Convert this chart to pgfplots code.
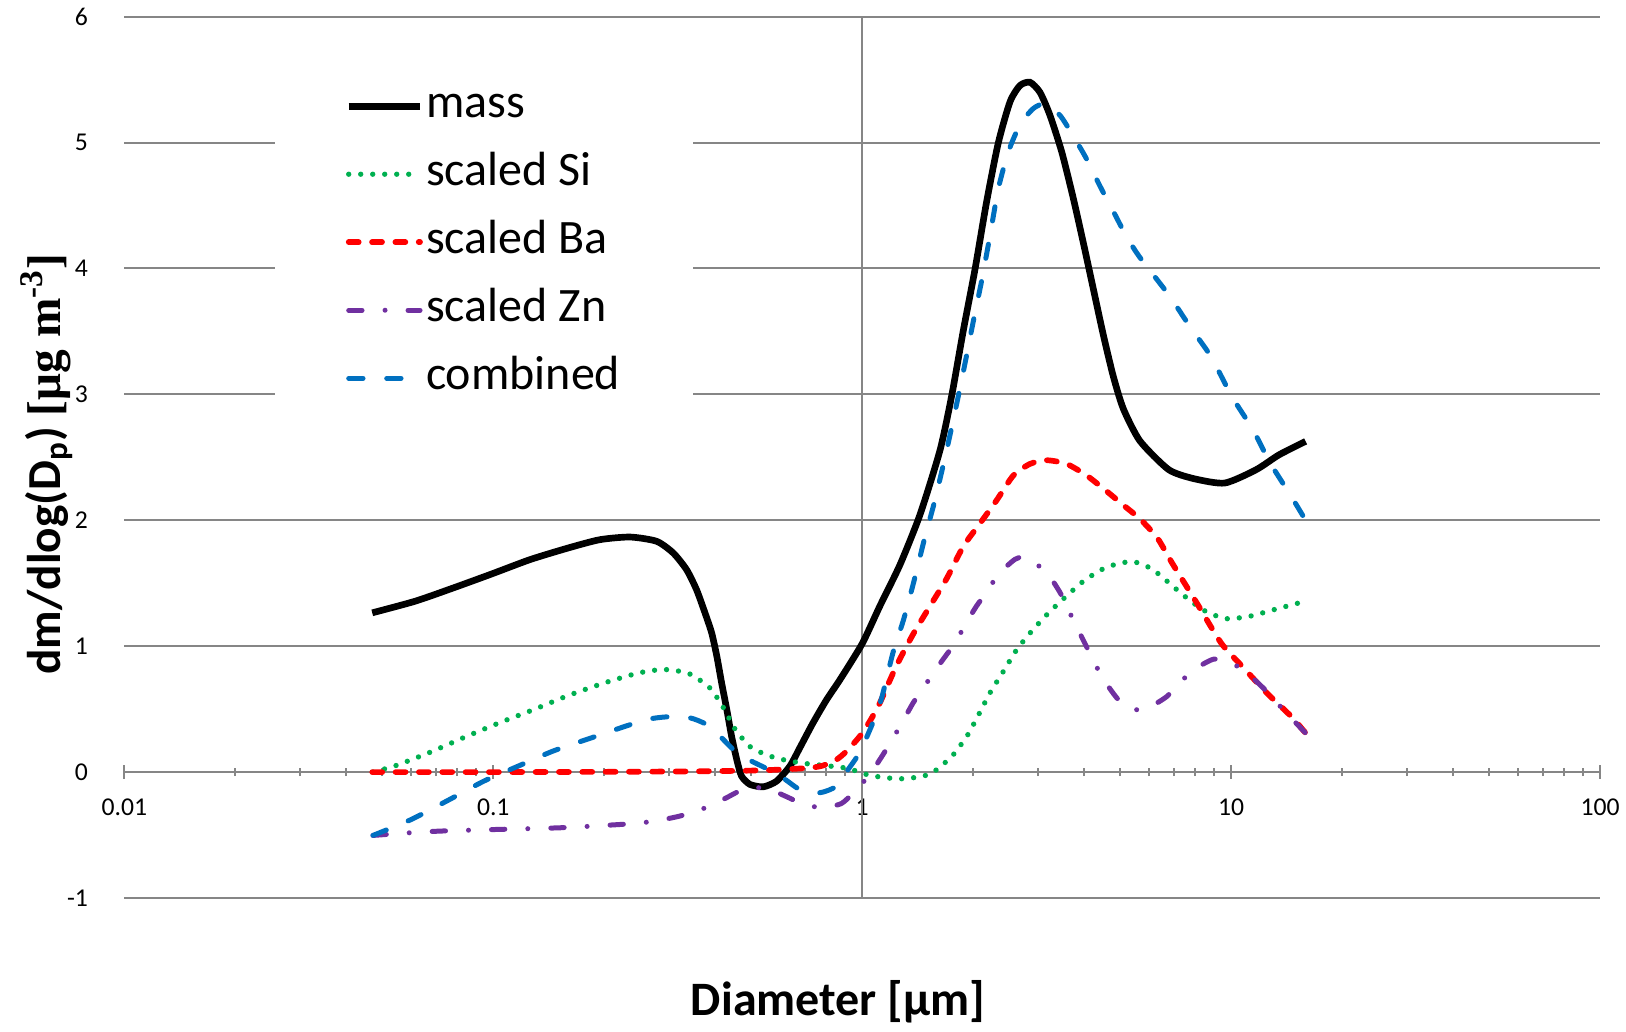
\documentclass[border=0pt]{standalone}
\usepackage{fontspec}
\setmainfont{Carlito}
\newfontfamily\serifb{Liberation Serif}
\usepackage{pgfplots}
\pgfplotsset{compat=1.18}

\definecolor{gridgray}{HTML}{868686}
\definecolor{sigreen}{HTML}{00B050}
\definecolor{bared}{HTML}{FF0000}
\definecolor{znpurple}{HTML}{7030A0}
\definecolor{combblue}{HTML}{0070C0}

\begin{document}
\begin{tikzpicture}
\begin{axis}[
  name=ax,
  scale only axis,
  width=442.7pt, height=264.4pt,
  xmin=-2, xmax=2, ymin=-1, ymax=6,
  axis x line=middle,
  axis y line=left,
  x axis line style={gridgray, line width=0.7pt, -},
  y axis line style={draw=none},
  xtick={-2,-1,0,1,2},
  xticklabels={0.01,0.1,1,10,100},
  minor xtick={-1.699,-1.523,-1.398,-1.301,-1.222,-1.155,-1.097,-1.046,
    -0.699,-0.523,-0.398,-0.301,-0.222,-0.155,-0.097,-0.046,
    0.301,0.477,0.602,0.699,0.778,0.845,0.903,0.954,
    1.301,1.477,1.602,1.699,1.778,1.845,1.903,1.954},
  ytick={-1,0,1,2,3,4,5,6},
  ymajorgrids,
  major grid style={gridgray, line width=0.6pt},
  extra x ticks={0},
  extra x tick labels={},
  extra x tick style={grid=major, major tick length=0pt},
  tick style={gridgray, line width=0.6pt},
  ytick style={draw=none},
  xtick align=center,
  major tick length=4pt, minor tick length=2.4pt,
  hide obscured x ticks=false, hide obscured y ticks=false,
  tick label style={font=\fontsize{7.7}{9}\selectfont},
  /pgf/number format/assume math mode=true,
  xticklabel style={yshift=-2.6pt},
  yticklabel style={xshift=-5.4pt},
  xlabel={\bfseries Diameter [μm]},
  xlabel style={at={(rel axis cs:0.4836,-0.118)}, anchor=center, font=\fontsize{14.4}{16}\selectfont},
  ylabel={\bfseries dm/dlog(D\textsubscript{p}) {\serifb\bfseries [μg m\textsuperscript{-3}]}},
  ylabel style={at={(rel axis cs:-0.0526,0.4924)}, anchor=center, font=\fontsize{14.2}{16}\selectfont},
  legend style={
    at={(rel axis cs:0.1019,0.9487)}, anchor=north west,
    draw=none, fill=white,
    inner xsep=21pt, inner ysep=6pt,
    font=\fontsize{14.4}{16}\selectfont,
    row sep=6.2pt,
    nodes={inner sep=0.8pt, text depth=3pt, text height=9.6pt},
  },
  legend cell align=left,
  legend image code/.code={\draw[#1] (0pt,0pt) -- (21.4pt,0pt);},
]

% mass
\addplot[black, line width=2pt, smooth, tension=0.4] table {
x y
-1.328 1.265
-1.212 1.357
-1.108 1.463
-1.004 1.574
-0.900 1.688
-0.797 1.780
-0.711 1.846
-0.629 1.867
-0.557 1.833
-0.512 1.740
-0.476 1.608
-0.449 1.449
-0.426 1.264
-0.408 1.106
-0.394 0.920
-0.381 0.709
-0.367 0.497
-0.354 0.285
-0.340 0.100
-0.327 -0.032
-0.304 -0.098
-0.268 -0.117
-0.232 -0.072
-0.196 0.047
-0.169 0.193
-0.133 0.392
-0.096 0.577
-0.060 0.735
0.000 1.020
0.048 1.319
0.1025 1.647
0.157 2.047
0.211 2.557
0.243 2.995
0.274 3.505
0.306 3.996
0.337 4.525
0.369 4.998
0.401 5.326
0.428 5.454
0.455 5.479
0.482 5.399
0.509 5.217
0.541 4.925
0.572 4.561
0.600 4.197
0.627 3.832
0.654 3.468
0.681 3.140
0.708 2.885
0.753 2.630
0.831 2.402
0.900 2.330
0.983 2.296
1.068 2.402
1.130 2.520
1.202 2.627
};
\addlegendentry{mass}

% scaled Si
\addplot[sigreen, line width=1.6pt, line cap=round, dash pattern=on 0pt off 3.6pt, smooth, tension=0.4] table {
x y
-1.326 0.000
-1.263 0.053
-1.170 0.159
-1.077 0.278
-0.983 0.392
-0.890 0.497
-0.797 0.608
-0.698 0.709
-0.605 0.788
-0.537 0.815
-0.470 0.783
-0.413 0.669
-0.376 0.511
-0.344 0.339
-0.300 0.193
-0.236 0.114
-0.169 0.074
-0.105 0.053
-0.040 0.030
0.021 -0.026
0.093 -0.053
0.130 -0.047
0.161 -0.036
0.191 -0.004
0.216 0.055
0.243 0.124
0.283 0.281
0.315 0.452
0.346 0.627
0.383 0.801
0.419 0.973
0.459 1.118
0.505 1.264
0.554 1.399
0.604 1.526
0.663 1.628
0.731 1.672
0.788 1.608
0.869 1.409
0.926 1.285
0.985 1.219
1.049 1.237
1.116 1.290
1.183 1.343
};
\addlegendentry{scaled Si}

% scaled Ba
\addplot[bared, line width=1.7pt, line cap=round, dash pattern=on 3pt off 4pt, smooth, tension=0.4] table {
x y
-1.328 0.000
-1.000 0.000
-0.700 0.002
-0.450 0.006
-0.300 0.012
-0.223 0.020
-0.141 0.034
-0.105 0.053
-0.069 0.100
-0.042 0.167
-0.006 0.286
0.021 0.405
0.048 0.550
0.093 0.845
0.139 1.100
0.184 1.319
0.229 1.537
0.274 1.792
0.319 1.974
0.364 2.157
0.410 2.357
0.455 2.448
0.500 2.477
0.554 2.448
0.608 2.357
0.663 2.230
0.708 2.120
0.753 2.011
0.800 1.860
0.840 1.661
0.907 1.343
0.973 1.025
1.030 0.840
1.097 0.628
1.163 0.442
1.202 0.310
};
\addlegendentry{scaled Ba}

% scaled Zn
\addplot[znpurple, line width=1.5pt, line cap=round, dash pattern=on 4pt off 6.9pt on 0pt off 6.9pt, smooth, tension=0.4] table {
x y
-1.326 -0.503
-1.222 -0.481
-1.139 -0.468
-0.983 -0.455
-0.817 -0.442
-0.651 -0.415
-0.574 -0.394
-0.494 -0.349
-0.417 -0.275
-0.368 -0.204
-0.322 -0.138
-0.263 -0.125
-0.209 -0.190
-0.164 -0.249
-0.110 -0.283
-0.056 -0.249
-0.020 -0.151
0.019 -0.026
0.048 0.100
0.075 0.226
0.104 0.372
0.139 0.554
0.161 0.645
0.191 0.780
0.225 0.918
0.252 1.027
0.281 1.180
0.310 1.319
0.337 1.428
0.370 1.574
0.414 1.690
0.437 1.709
0.459 1.683
0.503 1.574
0.536 1.428
0.554 1.319
0.581 1.155
0.609 0.991
0.627 0.882
0.656 0.729
0.690 0.590
0.721 0.510
0.750 0.495
0.780 0.517
0.826 0.601
0.859 0.707
0.904 0.821
0.954 0.898
1.002 0.866
1.049 0.771
1.092 0.654
1.125 0.548
1.163 0.429
1.202 0.310
};
\addlegendentry{scaled Zn}

% combined
\addplot[combblue, line width=1.5pt, line cap=round, dash pattern=on 4.3pt off 7.1pt, smooth, tension=0.4] table {
x y
-1.326 -0.503
-1.222 -0.376
-1.118 -0.217
-1.025 -0.071
-0.932 0.048
-0.838 0.167
-0.734 0.272
-0.641 0.365
-0.580 0.420
-0.527 0.439
-0.467 0.431
-0.422 0.378
-0.381 0.272
-0.345 0.167
-0.300 0.087
-0.254 0.021
-0.209 -0.058
-0.169 -0.138
-0.115 -0.164
-0.069 -0.111
-0.038 0.021
-0.006 0.160
0.030 0.400
0.053 0.590
0.084 0.954
0.112 1.209
0.139 1.501
0.170 1.865
0.197 2.157
0.229 2.557
0.256 2.922
0.279 3.250
0.301 3.577
0.324 3.905
0.347 4.270
0.369 4.634
0.396 4.925
0.428 5.144
0.464 5.271
0.496 5.308
0.536 5.217
0.572 5.053
0.608 4.871
0.645 4.652
0.681 4.452
0.717 4.251
0.753 4.087
0.831 3.790
0.888 3.540
0.945 3.302
1.002 2.984
1.059 2.720
1.106 2.455
1.163 2.190
1.202 2.000
};
\addlegendentry{combined}

\end{axis}
\pgfresetboundingbox
\path ([shift={(-37.3pt,-39.9pt)}]ax.south west) rectangle ([shift={(7.8pt,5pt)}]ax.north east);
\end{tikzpicture}
\end{document}
